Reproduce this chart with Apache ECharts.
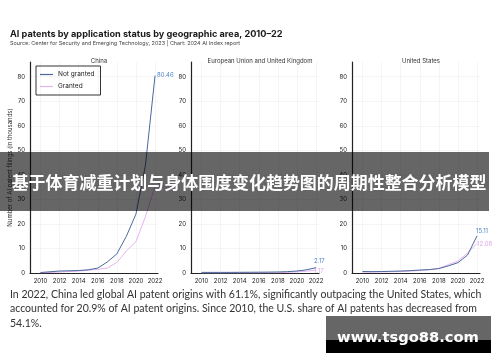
<!DOCTYPE html>
<html><head><meta charset="utf-8">
<script src="https://cdn.jsdelivr.net/npm/echarts@6/dist/echarts.min.js"></script>
<style>html,body{margin:0;padding:0;background:#fff}#c{width:500px;height:362px}</style>
</head><body><div id="c"></div><script>
// ---- data ----
const years = [2010,2011,2012,2013,2014,2015,2016,2017,2018,2019,2020,2021,2022];
const xTickYears = [2010,2012,2014,2016,2018,2020,2022];
const yTicks = [0,10,20,30,40,50,60,70,80];
const panelTitles = ['China','European Union and United Kingdom','United States'];
const seriesNames = ['Not granted','Granted'];
const chinaNotGranted = [0.2,0.5,0.8,0.9,1.0,1.3,2.0,4.5,7.8,15.0,24.0,44.0,80.46];
const chinaGranted    = [0.1,0.2,0.4,0.6,0.8,1.1,1.5,2.0,4.3,9.0,12.8,23.0,35.3];
const euNotGranted    = [0.25,0.25,0.25,0.25,0.28,0.3,0.33,0.36,0.42,0.55,0.8,1.3,2.17];
const euGranted       = [0.05,0.05,0.05,0.06,0.07,0.08,0.1,0.12,0.15,0.25,0.45,0.75,1.17];
const usNotGranted    = [0.6,0.55,0.6,0.7,0.8,0.95,1.2,1.4,1.8,2.9,4.2,7.3,15.11];
const usGranted       = [0.4,0.4,0.45,0.5,0.6,0.8,1.0,1.3,1.9,3.4,4.9,8.1,12.08];
const titleText = 'AI patents by application status by geographic area, 2010–22';
const subtitleText = 'Source: Center for Security and Emerging Technology, 2023 | Chart: 2024 AI Index report';
const yAxisName = 'Number of AI patent filings (in thousands)';
const paragraph = [
  'In 2022, China led global AI patent origins with 61.1%, significantly outpacing the United States, which',
  'accounted for 20.9% of AI patent origins. Since 2010, the U.S. share of AI patents has decreased from',
  '54.1%.'
];
const bannerText = '基于体育减重计划与身体围度变化趋势图的周期性整合分析模型';
const watermarkText = 'www.tsgo88.com';

// ---- helpers ----
const mctx = document.createElement('canvas').getContext('2d');
function fit(text, weight, family, width){
  mctx.font = weight + ' 100px ' + family;
  return 100 * width / mctx.measureText(text).width;
}
const BLUE = '#4a6a9c', BLUE_L = '#4f86c6', PINK = '#e6b3f0', PINK_L = '#dfa9ec';
const panels = [
  {left:30, ng:chinaNotGranted, g:chinaGranted, ngOff:[0,0], gOff:[0,0]},
  {left:191, ng:euNotGranted, g:euGranted, ngOff:[-4,-6], gOff:[-4,1]},
  {left:352, ng:usNotGranted, g:usGranted, ngOff:[-3,-5], gOff:[-2,1]}
];
const FF = 'Inter, "Noto Sans", sans-serif';
const grids = [], xAxes = [], yAxes = [], series = [], titles = [];
panels.forEach((p, i) => {
  grids.push({left:p.left, top:62, width:128, height:211});
  xAxes.push({type:'value', gridIndex:i, min:2008.9, max:2022.31,
    axisLine:{show:true, lineStyle:{color:'#222', width:1.2}},
    axisTick:{show:false, customValues:xTickYears},
    axisLabel:{customValues:xTickYears, formatter: v => String(v), fontSize:6, color:'#222', margin:5, fontFamily:FF},
    splitLine:{show:true, lineStyle:{color:'#eeeeee', width:0.6}}});
  yAxes.push({type:'value', gridIndex:i, min:0, max:86,
    axisLine:{show:true, lineStyle:{color:'#222', width:1.2}},
    axisTick:{show:false, customValues:yTicks},
    axisLabel:{customValues:yTicks, fontSize:6, color:'#222', margin:5, fontFamily:FF},
    splitLine:{show:true, lineStyle:{color:'#eeeeee', width:0.6}},
    name: i === 0 ? yAxisName : '', nameLocation:'middle', nameGap:15, nameRotate:90,
    nameTextStyle:{fontSize:6, color:'#333', fontFamily:FF}});
  [[p.ng, BLUE, BLUE_L, p.ngOff, 0],[p.g, PINK, PINK_L, p.gOff, 1]].forEach(([vals, c, lc, off, k]) => {
    series.push({type:'line', name:seriesNames[k], xAxisIndex:i, yAxisIndex:i, symbol:'none',
      z: k === 0 ? 3 : 2,
      lineStyle:{color:c, width:1}, itemStyle:{color:c},
      data: years.map((y, j) => [y, vals[j]]),
      endLabel:{show:true, formatter: q => q.value[1].toFixed(2), fontSize:6, color:lc,
        distance:2, offset:off, fontFamily:FF},
      animation:false});
  });
  titles.push({text:panelTitles[i], left:p.left + 64, top:53, textAlign:'center',
    textStyle:{fontSize:6, fontWeight:'normal', color:'#333', fontFamily:FF}});
});

const tSize = fit(titleText, 'bold', FF, 273);
const sSize = fit(subtitleText, 'normal', FF, 231);
const pSize = fit(paragraph[0], 'normal', 'Lato', 472);
const bSize = fit(bannerText, 'bold', '"Noto Sans CJK SC"', 475);
const wSize = fit(watermarkText, 'bold', '"DejaVu Sans"', 142);

const graphic = [
  {type:'text', left:10, top:35 - tSize*0.6, style:{text:titleText, font:'bold ' + tSize + 'px ' + FF, fill:'#1a1a1a'}},
  {type:'text', left:10, top:44 - sSize*0.6, style:{text:subtitleText, font:sSize + 'px ' + FF, fill:'#444'}},
].concat(paragraph.map((t, k) => ({type:'text', left:10, top:289 + k*14.5,
  style:{text:t, font:pSize + 'px Lato', fill:'#333'}})))
.concat([
  {type:'rect', shape:{x:0, y:152, width:489, height:59}, style:{fill:'rgba(0,0,0,0.6)'}, z:100},
  {type:'text', x:249, y:183, z:101, style:{text:bannerText, font:'bold ' + bSize + 'px "Noto Sans CJK SC"', fill:'#fff', textAlign:'center', textVerticalAlign:'middle'}},
  {type:'rect', shape:{x:326, y:316, width:165, height:24}, style:{fill:'#666'}, z:100},
  {type:'rect', shape:{x:326, y:340, width:165, height:13}, style:{fill:'#000'}, z:100},
  {type:'text', x:408, y:338, z:101, style:{text:watermarkText, font:'bold ' + wSize + 'px "DejaVu Sans"', fill:'#fff', textAlign:'center', textVerticalAlign:'middle'}}
]);

const chart = echarts.init(document.getElementById('c'), null, {renderer:'canvas'});
chart.setOption({
  backgroundColor:'#fff', animation:false,
  title: titles,
  legend:{data:seriesNames.map(n => ({name:n, icon:'rect'})), left:36, top:66, orient:'vertical',
    borderColor:'#333', borderWidth:1,
    padding:[5,6,5,4], itemGap:5, itemWidth:13, itemHeight:1.2, borderRadius:0,
    textStyle:{fontSize:6.5, color:'#222', fontFamily:FF}},
  grid: grids, xAxis: xAxes, yAxis: yAxes, series: series, graphic: graphic
});
</script></body></html>
